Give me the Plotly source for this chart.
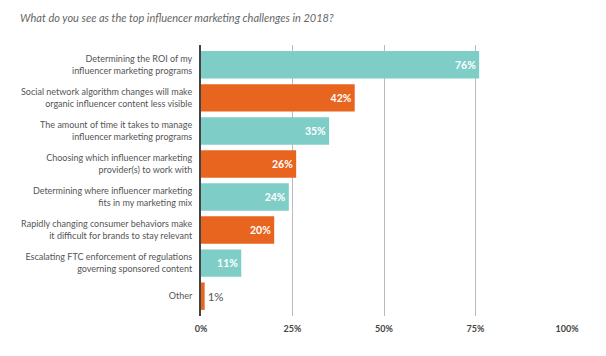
import plotly.graph_objects as go

categories = [
    "Determining the ROI of my<br>influencer marketing programs",
    "Social network algorithm changes will make<br>organic influencer content less visible",
    "The amount of time it takes to manage<br>influencer marketing programs",
    "Choosing which influencer marketing<br>provider(s) to work with",
    "Determining where influencer marketing<br>fits in my marketing mix",
    "Rapidly changing consumer behaviors make<br>it difficult for brands to stay relevant",
    "Escalating FTC enforcement of regulations<br>governing sponsored content",
    "Other",
]
values = [76, 42, 35, 26, 24, 20, 11, 1]
tick_vals = [0, 25, 50, 75, 100]
tick_labels = ["0%", "25%", "50%", "75%", "100%"]
title_text = "What do you see as the top influencer marketing challenges in 2018?"

TEAL = "#7fcdc7"
ORANGE = "#e8651f"
colors = [TEAL if i % 2 == 0 else ORANGE for i in range(len(values))]
text_pos = ["inside" if v >= 5 else "outside" for v in values]

# page body has an 8px default margin; figure sized/offset to compensate
W, H = 598, 348

fig = go.Figure(go.Bar(
    x=values,
    y=categories,
    orientation="h",
    marker=dict(color=colors, line=dict(width=0)),
    text=[f"{v}%" for v in values],
    textposition=text_pos,
    insidetextanchor="end",
    insidetextfont=dict(color="white", size=10.5, family="Lato", weight="bold"),
    outsidetextfont=dict(color="#555555", size=11.5, family="Lato"),
    cliponaxis=False,
))

fig.update_layout(
    width=W, height=H,
    margin=dict(l=193, r=39, t=37, b=40),
    paper_bgcolor="white", plot_bgcolor="white",
    bargap=0.17,
    showlegend=False,
    title=dict(text=title_text, xref="container", yref="container",
               x=12 / W, xanchor="left", y=1 - 10 / H, yanchor="middle",
               font=dict(family="Lato", size=11, color="#666666", style="italic")),
    font=dict(family="Lato", color="#555555"),
)

fig.update_xaxes(
    range=[0, 100], tickvals=tick_vals, ticktext=tick_labels,
    showgrid=True, gridcolor="#bbbbbb", gridwidth=1,
    zeroline=False, showline=False, ticks="", ticklabelstandoff=6,
    tickfont=dict(size=9, color="#444444", family="Lato", weight="bold"),
    automargin=False,
)
fig.update_yaxes(
    categoryorder="array", categoryarray=categories,
    autorange=False, range=[len(categories) - 0.4, -0.6],
    showline=True, linecolor="#444444", linewidth=2,
    showgrid=False, ticks="", ticklabelstandoff=5,
    tickfont=dict(size=9, color="#555555", family="Lato"),
    automargin=False,
)

fig.write_html("out.html")
